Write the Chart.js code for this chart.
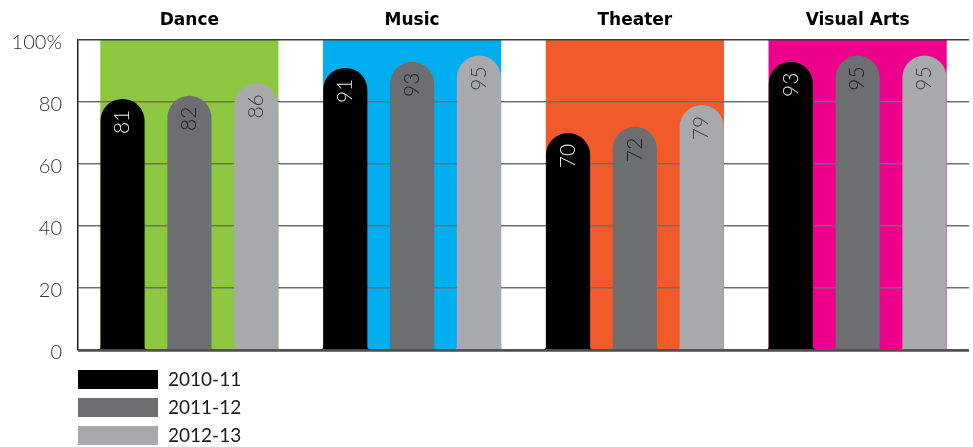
<!DOCTYPE html>
<html>
<head>
<meta charset="utf-8">
<script src="https://cdn.jsdelivr.net/npm/chart.js@4"></script>
<style>
html,body{margin:0;padding:0;background:#fff;}
#wrap{width:973px;height:447px;position:relative;}
</style>
</head>
<body>
<div id="wrap"><canvas id="c" width="973" height="447"></canvas></div>
<script>
const categories = ['Dance', 'Music', 'Theater', 'Visual Arts'];
const categoryColors = ['#8dc63f', '#00aeef', '#f15a2b', '#ec008c'];
const seriesNames = ['2010-11', '2011-12', '2012-13'];
const series2010 = [81, 91, 70, 93];
const series2011 = [82, 93, 72, 95];
const series2012 = [86, 95, 79, 95];
const seriesColors = ['#000000', '#6d6e71', '#a7a9ac'];
const labelColors = ['#e8e8e8', '#1c1c1c', '#3a3a3a'];
const yTicks = [0, 20, 40, 60, 80, 100];
const yTickLabels = ['0', '20', '40', '60', '80', '100%'];

const bgPlugin = {
  id: 'catBg',
  beforeDraw(chart) {
    const ctx = chart.ctx, x = chart.scales.x, ca = chart.chartArea;
    const n = categories.length;
    const w = (ca.right - ca.left) / n * 0.8;
    ctx.save();
    categories.forEach((c, i) => {
      const cx = x.getPixelForValue(i);
      ctx.fillStyle = categoryColors[i];
      ctx.fillRect(cx - w / 2, ca.top, w, ca.bottom - ca.top);
    });
    ctx.restore();
  },
  afterDatasetsDraw(chart) {
    const ctx = chart.ctx, x = chart.scales.x, ca = chart.chartArea;
    ctx.save();
    const r = 4;
    chart.data.datasets.forEach((ds, di) => {
      const meta = chart.getDatasetMeta(di);
      meta.data.forEach((bar, i) => {
        // bottom fillets
        const bl = bar.x - bar.width / 2, br = bar.x + bar.width / 2, b = ca.bottom;
        ctx.fillStyle = seriesColors[di];
        ctx.beginPath();
        ctx.moveTo(bl, b - r); ctx.lineTo(bl, b); ctx.lineTo(bl - r, b);
        ctx.arc(bl - r, b - r, r, Math.PI / 2, 0, true);
        ctx.closePath(); ctx.fill();
        ctx.beginPath();
        ctx.moveTo(br, b - r); ctx.lineTo(br, b); ctx.lineTo(br + r, b);
        ctx.arc(br + r, b - r, r, Math.PI / 2, Math.PI, false);
        ctx.closePath(); ctx.fill();
        // value label
        ctx.save();
        ctx.translate(bar.x, bar.y + 23);
        ctx.rotate(-Math.PI / 2);
        ctx.fillStyle = labelColors[di];
        ctx.font = '300 21px Lato, "Open Sans", sans-serif';
        ctx.textAlign = 'center';
        ctx.textBaseline = 'middle';
        ctx.fillText(String(ds.data[i]), 0, 0);
        ctx.restore();
      });
    });
    // baseline
    ctx.strokeStyle = '#4d4d4f';
    ctx.lineWidth = 2.5;
    ctx.beginPath();
    ctx.moveTo(ca.left, ca.bottom + 0.5);
    ctx.lineTo(ca.right, ca.bottom + 0.5);
    ctx.stroke();
    // category titles
    ctx.fillStyle = '#000';
    ctx.font = 'bold 17px "DejaVu Sans", sans-serif';
    ctx.textAlign = 'center';
    ctx.textBaseline = 'middle';
    categories.forEach((c, i) => {
      ctx.fillText(c, x.getPixelForValue(i), 21);
    });
    // legend
    ctx.textAlign = 'left';
    ctx.textBaseline = 'middle';
    ctx.font = '19px Lato, "Open Sans", sans-serif';
    seriesNames.forEach((s, i) => {
      const y = 370 + i * 28;
      ctx.fillStyle = seriesColors[i];
      ctx.fillRect(78, y, 80, 19);
      ctx.fillStyle = '#1a1a1a';
      ctx.fillText(s, 168, y + 10);
    });
    ctx.restore();
  }
};

const datasets = [series2010, series2011, series2012].map((d, i) => ({
  label: seriesNames[i],
  data: d,
  backgroundColor: seriesColors[i],
  borderWidth: 0,
  borderSkipped: 'bottom',
  borderRadius: { topLeft: 30, topRight: 30, bottomLeft: 0, bottomRight: 0 },
  categoryPercentage: 0.9,
  barPercentage: 0.66
}));

new Chart(document.getElementById('c'), {
  type: 'bar',
  data: { labels: categories, datasets },
  options: {
    responsive: false,
    animation: false,
    events: [],
    layout: { padding: { top: 40, bottom: 97, left: 0, right: 4 } },
    plugins: { legend: { display: false }, tooltip: { enabled: false } },
    scales: {
      x: { display: false },
      y: {
        min: 0, max: 100,
        afterFit(scale) { scale.width = 78; },
        afterBuildTicks(scale) { scale.ticks = yTicks.map(v => ({ value: v })); },
        ticks: {
          padding: 16,
          labelOffset: 3,
          color: '#333',
          font: { family: 'Lato, "Open Sans", sans-serif', size: 20, weight: '300' },
          callback: (v) => yTickLabels[yTicks.indexOf(v)]
        },
        grid: {
          drawTicks: false,
          color: (c) => c.tick && c.tick.value === 100 ? '#3a3a3a' : '#6d6e71',
          lineWidth: 1.5
        },
        border: { display: true, color: '#222', width: 1.5 }
      }
    }
  },
  plugins: [bgPlugin]
});
</script>
</body>
</html>
